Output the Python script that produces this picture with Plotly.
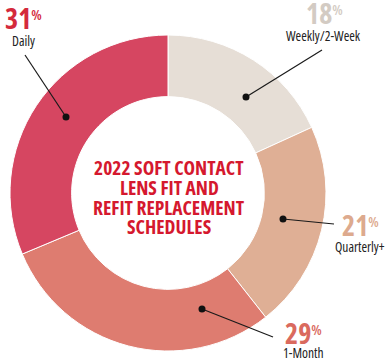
import plotly.graph_objects as go

# ---- data ----
categories = ["Weekly/2-Week", "Quarterly+", "1-Month", "Daily"]
values = [18, 21, 29, 31]
slice_colors = ["#E6DED6", "#DFAF95", "#DE7C70", "#D64661"]
label_colors = ["#D3CBC3", "#DDAA8E", "#DA6A5E", "#D42A3C"]
title_lines = ["2022 SOFT CONTACT", "LENS FIT AND", "REFIT REPLACEMENT", "SCHEDULES"]

W, H = 387, 361
FONT = "Open Sans, Noto Sans Display, DejaVu Sans Condensed, sans-serif"
ST = "font-stretch:condensed"

def px(x):
    return x / W

def py(y):
    return 1 - y / H

fig = go.Figure()
fig.add_trace(go.Pie(
    labels=categories,
    values=values,
    hole=0.61,
    sort=False,
    direction="clockwise",
    rotation=0,
    marker=dict(colors=slice_colors, line=dict(color="white", width=1)),
    textinfo="none",
    hoverinfo="label+percent",
    showlegend=False,
    domain=dict(x=[px(10), px(326)], y=[py(352), py(34)]),
))

# label layout: (pct center, name center, line start (outer), dot (inner))
layout_pos = {
    "Daily": ((23, 18), (23, 41), (25, 55), (66, 117)),
    "Weekly/2-Week": ((324, 13), (323, 36), (322, 50), (246, 97)),
    "Quarterly+": ((360, 225), (360, 247), (334, 224), (283, 219)),
    "1-Month": ((303, 333), (303, 353), (273, 337), (202, 309)),
}

annotations = []
shapes = []
for cat, val, col in zip(categories, values, label_colors):
    (pcx, pcy), (ncx, ncy), (lx, ly), (dx, dy) = layout_pos[cat]
    annotations.append(dict(
        x=px(pcx), y=py(pcy), xref="paper", yref="paper",
        xanchor="center", yanchor="middle", showarrow=False,
        text=(f"<span style='{ST}'><b>{val}</b>"
              f"<span style='font-size:21px'><sup>%</sup></span></span>"),
        font=dict(family=FONT, size=28, color=col, weight=600),
    ))
    annotations.append(dict(
        x=px(ncx), y=py(ncy), xref="paper", yref="paper",
        xanchor="center", yanchor="middle", showarrow=False,
        text=f"<span style='{ST}'>{cat}</span>",
        font=dict(family=FONT, size=13.5, color="#222222"),
    ))
    shapes.append(dict(type="line", xref="paper", yref="paper",
                       x0=px(lx), y0=py(ly), x1=px(dx), y1=py(dy),
                       line=dict(color="#1a1a1a", width=1.2)))
    r = 3.5
    shapes.append(dict(type="circle", xref="paper", yref="paper",
                       x0=px(dx - r), x1=px(dx + r), y0=py(dy + r), y1=py(dy - r),
                       fillcolor="#111111", line=dict(width=0)))

title_y = [167, 187, 207, 226]
for line, ty in zip(title_lines, title_y):
    annotations.append(dict(
        x=px(169), y=py(ty), xref="paper", yref="paper",
        xanchor="center", yanchor="middle", showarrow=False,
        text=f"<span style='{ST}'><b>{line}</b></span>",
        font=dict(family=FONT, size=19.5, color="#D5182E"),
    ))

fig.update_layout(
    width=W, height=H,
    margin=dict(l=0, r=0, t=0, b=0),
    paper_bgcolor="white", plot_bgcolor="white",
    annotations=annotations, shapes=shapes,
)

fig.write_html("out.html", config={"displayModeBar": False},
               post_script="document.body.style.margin='0';document.body.style.overflow='hidden';")
